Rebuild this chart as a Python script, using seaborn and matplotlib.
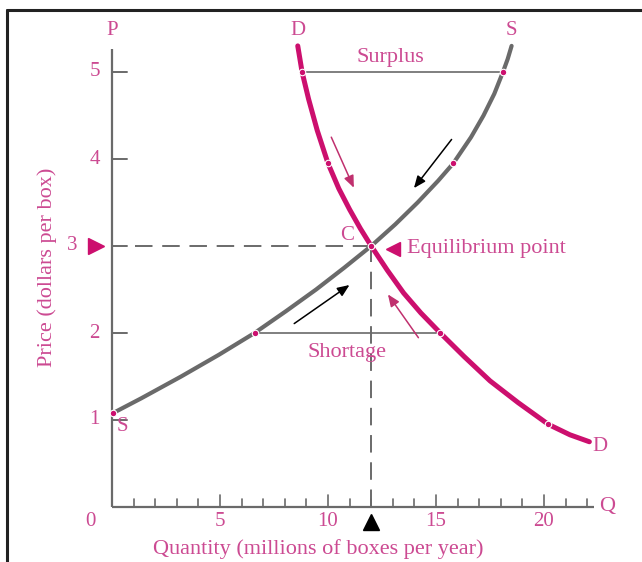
"""Рынок коробок: спрос, предложение и точка равновесия."""
import matplotlib
matplotlib.use("Agg")
import matplotlib.pyplot as plt
import matplotlib.lines as mlines
import pandas as pd
import seaborn as sns

sns.set_theme(style="white")
plt.rcParams["font.family"] = ["Liberation Serif", "DejaVu Serif"]

supply_q = [0.05, 1.36, 3.2, 4.95, 6.6, 8.05, 9.45, 10.75, 12.0, 13.12, 14.15,
            15.1, 15.8, 16.62, 17.2, 17.7, 18.1, 18.32, 18.5]
supply_p = [1.08, 1.25, 1.5, 1.75, 2.0, 2.25, 2.5, 2.75, 3.0, 3.25, 3.5,
            3.75, 3.95, 4.25, 4.5, 4.75, 5.0, 5.15, 5.3]
demand_q = [8.6, 8.8, 9.1, 9.5, 10.0, 10.5, 11.0, 11.5, 12.0, 12.75, 13.5,
            14.3, 15.2, 16.3, 17.5, 18.8, 20.2, 21.2, 22.1]
demand_p = [5.3, 5.0, 4.69, 4.33, 3.95, 3.66, 3.42, 3.2, 3.0, 2.72, 2.46,
            2.23, 2.0, 1.73, 1.45, 1.2, 0.95, 0.83, 0.75]

# отмеченные точки на кривых
supply_dots_q = [0.05, 6.6, 15.8, 18.1]
supply_dots_p = [1.08, 2.0, 3.95, 5.0]
demand_dots_q = [8.8, 10.0, 15.2, 20.2]
demand_dots_p = [5.0, 3.95, 2.0, 0.95]

eq_q, eq_p = 12.0, 3.0
surplus_p, surplus_q = 5.0, (8.8, 18.1)
shortage_p, shortage_q = 2.0, (6.6, 15.2)

y_ticks = [1, 2, 3, 4, 5]
x_major = [5, 10, 15, 20]
x_minor = list(range(1, 23))

PINK = "#cc0f6e"
TEXT = "#cc4a92"
GREY = "#6a6a6a"
FS = 16

fig = plt.figure(figsize=(6.42, 5.62), dpi=100)
ax = fig.add_axes([0, 0, 1, 1])
# масштаб подобран под исходную картинку: 21.6 px на единицу Q, 87 px на единицу P
ax.set_xlim(-112 / 21.6, (642 - 112) / 21.6)
ax.set_ylim((507 - 562) / 87, 507 / 87)

# оси
ax.plot([0, 0], [0, 5.27], color=GREY, lw=1.6, solid_capstyle="butt")
ax.plot([0, 22.3], [0, 0], color=GREY, lw=1.6, solid_capstyle="butt")
for t in y_ticks:
    ax.plot([0, 0.7], [t, t], color=GREY, lw=1.4)
    lx = -1.85 if t == 3 else -0.8
    ax.text(lx, t, str(t), color=TEXT, fontsize=FS - 1, ha="center", va="center")
for t in x_minor:
    h = 0.14 if t in x_major else 0.09
    ax.plot([t, t], [0, h], color=GREY, lw=1.2)
for t in x_major:
    ax.text(t, -0.17, str(t), color=TEXT, fontsize=FS - 1, ha="center", va="center")
ax.text(-1.0, -0.17, "0", color=TEXT, fontsize=FS - 1, ha="center", va="center")
ax.text(0, 5.48, "P", color=TEXT, fontsize=FS - 1, ha="center", va="center")
ax.text(22.9, 0, "Q", color=TEXT, fontsize=FS, ha="center", va="center")

# пунктир к равновесию
ax.plot([1.05, eq_q], [eq_p, eq_p], color=GREY, lw=1.4, ls=(0, (9, 5)))
ax.plot([eq_q, eq_q], [0, eq_p], color=GREY, lw=1.4, ls=(0, (9, 5)))

# излишек и дефицит
ax.plot(surplus_q, [surplus_p] * 2, color=GREY, lw=1.2)
ax.plot(shortage_q, [shortage_p] * 2, color=GREY, lw=1.2)
ax.text(12.9, 5.17, "Surplus", color=TEXT, fontsize=FS, ha="center", va="center")
ax.text(10.9, 1.78, "Shortage", color=TEXT, fontsize=FS, ha="center", va="center")

# кривые
supply = pd.DataFrame({"Q": supply_q, "P": supply_p})
demand = pd.DataFrame({"Q": demand_q, "P": demand_p})
sns.lineplot(data=supply, x="Q", y="P", sort=False, color=GREY, lw=3,
             solid_joinstyle="round", ax=ax)
sns.lineplot(data=demand, x="Q", y="P", sort=False, color=PINK, lw=3.6,
             solid_joinstyle="round", ax=ax)
ax.axis("off")

ax.scatter(supply_dots_q + demand_dots_q + [eq_q], supply_dots_p + demand_dots_p + [eq_p],
           s=22, color=PINK, edgecolor="white", linewidth=0.8, zorder=5)

# подписи кривых
ax.text(8.6, 5.48, "D", color=TEXT, fontsize=FS - 1, ha="center", va="center")
ax.text(18.5, 5.48, "S", color=TEXT, fontsize=FS - 1, ha="center", va="center")
ax.text(0.5, 0.92, "S", color=TEXT, fontsize=FS - 1, ha="center", va="center")
ax.text(22.6, 0.7, "D", color=TEXT, fontsize=FS - 1, ha="center", va="center")

# равновесие
ax.text(10.9, 3.12, "C", color=TEXT, fontsize=FS - 1, ha="center", va="center")
ax.plot(13.0, 2.97, marker="<", ms=10, color=PINK, mec=PINK)
ax.text(13.65, 2.97, "Equilibrium point", color=TEXT, fontsize=FS, ha="left", va="center")
ax.plot(-0.75, eq_p, marker=">", ms=11, color=PINK, mec=PINK, clip_on=False)
ax.plot(eq_q, -0.17, marker="^", ms=11, color="black", clip_on=False)

# стрелки движения к равновесию
arrows = [
    ((10.1, 4.28), (11.25, 3.64), "#c0306e"),
    ((15.8, 4.25), (13.9, 3.64), "black"),
    ((8.33, 2.09), (11.1, 2.57), "black"),
    ((14.26, 1.92), (12.7, 2.47), "#c0306e"),
]
for start, end, col in arrows:
    ax.annotate("", xy=end, xytext=start,
                arrowprops=dict(arrowstyle="-|>,head_length=0.6,head_width=0.25",
                                color=col, lw=1.1))

# подписи осей
ax.text(-3.0, 2.75, "Price (dollars per box)", color=TEXT, fontsize=FS,
        rotation=90, ha="center", va="center")
ax.text(9.54, -0.48, "Quantity (millions of boxes per year)", color=TEXT,
        fontsize=FS, ha="center", va="center")

# рамка как на исходнике
fig.add_artist(mlines.Line2D([7 / 642, 1], [1 - 10 / 562] * 2, color="#222222", lw=2.2))
fig.add_artist(mlines.Line2D([7 / 642] * 2, [0, 1 - 10 / 562], color="#222222", lw=2.2))

fig.savefig("out.png", dpi=100)
